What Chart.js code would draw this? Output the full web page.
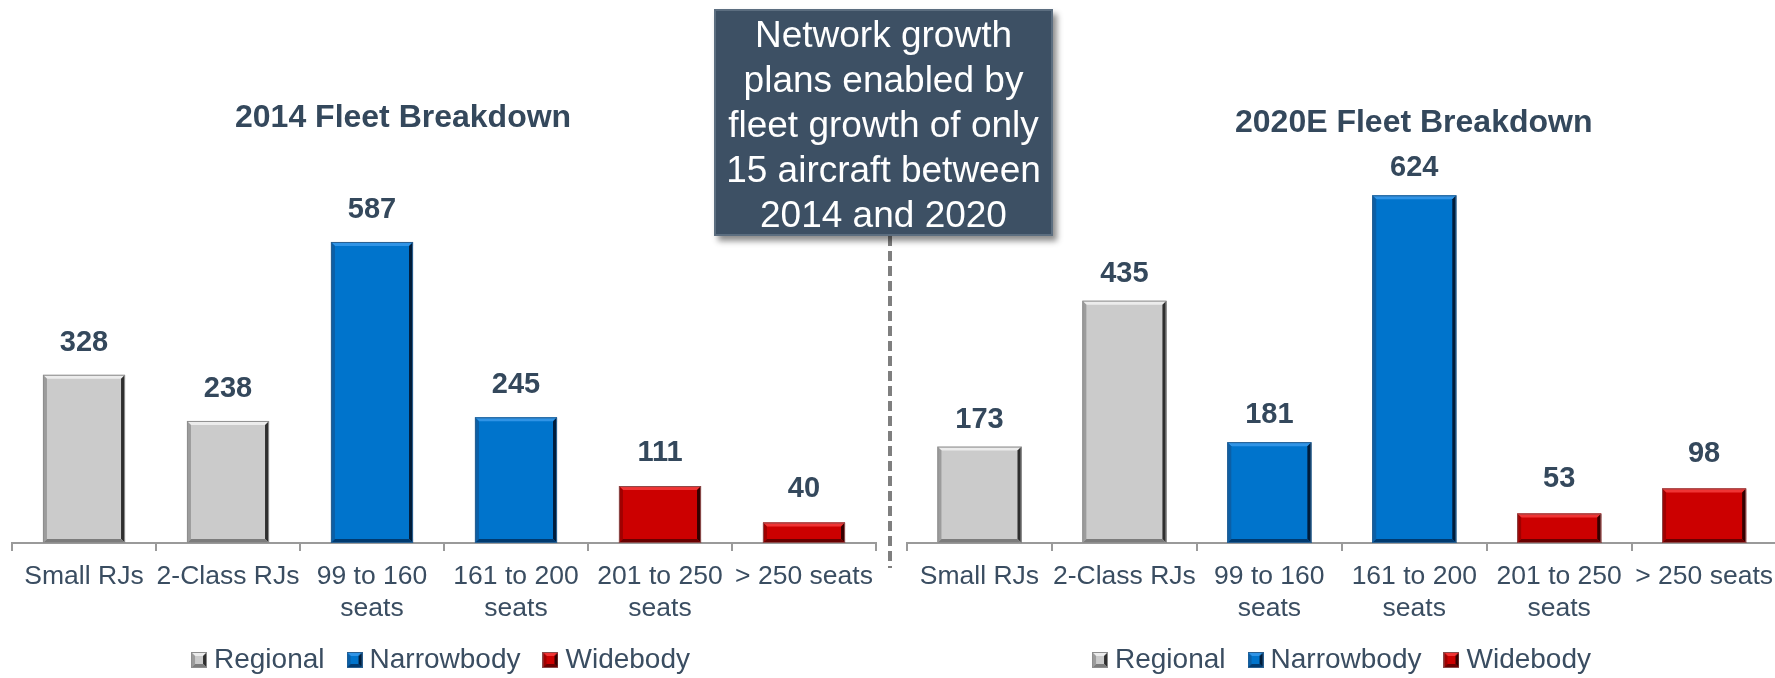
<!DOCTYPE html>
<html>
<head>
<meta charset="utf-8">
<script src="https://cdn.jsdelivr.net/npm/chart.js@4.4.1/dist/chart.umd.min.js"></script>
<style>
html,body{margin:0;padding:0;background:#fff;width:1775px;height:678px;overflow:hidden;position:relative;font-family:'Liberation Sans',Arial,sans-serif;}
canvas{position:absolute;top:0;}
#c1{left:0px;}
#c2{left:880px;}
.title{position:absolute;font-weight:bold;font-size:32px;line-height:32px;color:#34485c;white-space:nowrap;}
#t1{left:235px;top:99.5px;}
#t2{left:1235px;top:105px;}
#dash{position:absolute;left:888px;top:236px;width:3.5px;height:332px;background:repeating-linear-gradient(to bottom,#7f7f7f 0px,#7f7f7f 10px,transparent 10px,transparent 15px);}
#callout{position:absolute;left:714px;top:9px;width:339px;height:227px;box-sizing:border-box;background:#3d5064;border:2px solid #5c6e80;box-shadow:4px 5px 6px rgba(0,0,0,0.45);color:#fff;font-size:37px;line-height:45px;text-align:center;padding-top:1px;}
</style>
</head>
<body>
<canvas id="c1" width="885" height="684"></canvas>
<canvas id="c2" width="903" height="684"></canvas>
<div id="dash"></div>
<div id="callout">Network growth<br>plans enabled by<br>fleet growth of only<br>15 aircraft between<br>2014 and 2020</div>
<div class="title" id="t1">2014 Fleet Breakdown</div>
<div class="title" id="t2">2020E Fleet Breakdown</div>
<script>
// ---- data ----
const categories = ['Small RJs', '2-Class RJs', ['99 to 160', 'seats'], ['161 to 200', 'seats'], ['201 to 250', 'seats'], '> 250 seats'];
const bodyTypes = ['Regional', 'Regional', 'Narrowbody', 'Narrowbody', 'Widebody', 'Widebody'];
const seriesNames = ['Regional', 'Narrowbody', 'Widebody'];
const fleet2014 = [328, 238, 587, 245, 111, 40];
const fleet2020 = [173, 435, 181, 624, 53, 98];

// ---- styles ----
const FONT = "'Liberation Sans', Arial, sans-serif";
const TEXT = '#3a4d61';
const labelGap2014 = [24, 24, 23.5, 24, 25.5, 25];
const labelGap2020 = [18.5, 18.5, 19, 19, 26, 26.5];
const palette = {
  Regional:   {fill:'#cbcbcb', top:'#ececec', left:'#9c9c9c', right:'#2f2f2f', bottom:'#7c7c7c', edge:'#8e8e8e'},
  Narrowbody: {fill:'#0074cc', top:'#3094e6', left:'#0b5fa6', right:'#001c3a', bottom:'#003a70', edge:'#2a5f8f'},
  Widebody:   {fill:'#cc0000', top:'#ef3434', left:'#a00000', right:'#350000', bottom:'#6a0000', edge:'#8a4a4a'}
};

function poly(ctx, pts, color) {
  ctx.beginPath();
  ctx.moveTo(pts[0][0], pts[0][1]);
  for (let i = 1; i < pts.length; i++) ctx.lineTo(pts[i][0], pts[i][1]);
  ctx.closePath();
  ctx.fillStyle = color;
  ctx.fill();
}
function bevel(ctx, l, t, r, b, pal, k) {
  poly(ctx, [[l,t],[r,t],[r-k,t+k],[l+k,t+k]], pal.top);
  poly(ctx, [[l,t],[l+k,t+k],[l+k,b-k],[l,b]], pal.left);
  poly(ctx, [[r,t],[r,b],[r-k,b-k],[r-k,t+k]], pal.right);
  poly(ctx, [[l,b],[r,b],[r-k,b-k],[l+k,b-k]], pal.bottom);
  ctx.strokeStyle = pal.edge;
  ctx.lineWidth = 1;
  ctx.strokeRect(l + 0.5, t + 0.5, r - l - 1, b - t - 1);
}
function markerImage(name) {
  const c = document.createElement('canvas');
  c.width = 16; c.height = 16;
  const g = c.getContext('2d');
  g.fillStyle = palette[name].fill;
  g.fillRect(0, 0, 16, 16);
  bevel(g, 0, 0, 16, 16, palette[name], 4);
  return c;
}
const markers = {};
seriesNames.forEach(n => markers[n] = markerImage(n));

function buildDatasets(values) {
  return seriesNames.map(name => ({
    label: name,
    data: values.map((v, i) => bodyTypes[i] === name ? v : null),
    backgroundColor: palette[name].fill,
    borderWidth: 0,
    grouped: false
  }));
}

const decorPlugin = {
  id: 'decor',
  afterDatasetsDraw(chart, args, opts) {
    const ctx = chart.ctx;
    ctx.save();
    chart.data.datasets.forEach((ds, di) => {
      const meta = chart.getDatasetMeta(di);
      const pal = palette[ds.label];
      meta.data.forEach((bar, i) => {
        if (ds.data[i] == null) return;
        const p = bar.getProps(['x', 'y', 'base', 'width'], true);
        const l = p.x - p.width / 2, r = p.x + p.width / 2;
        const k = Math.min(4, (p.base - p.y) / 2);
        bevel(ctx, l, p.y, r, p.base, pal, k);
      });
    });
    ctx.fillStyle = '#34485c';
    ctx.font = 'bold 29px ' + FONT;
    ctx.textAlign = 'center';
    ctx.textBaseline = 'alphabetic';
    chart.data.datasets.forEach((ds, di) => {
      const meta = chart.getDatasetMeta(di);
      meta.data.forEach((bar, i) => {
        if (ds.data[i] == null) return;
        const p = bar.getProps(['x', 'y'], true);
        ctx.fillText(String(ds.data[i]), p.x, p.y - opts.gaps[i]);
      });
    });
    ctx.restore();
  }
};

function makeChart(id, values, cfg) {
  return new Chart(document.getElementById(id), {
    type: 'bar',
    data: {labels: categories, datasets: buildDatasets(values)},
    options: {
      responsive: false,
      animation: false,
      devicePixelRatio: 1,
      events: [],
      layout: {padding: {top: cfg.top, left: cfg.left, right: cfg.right, bottom: 0}},
      datasets: {bar: {barPercentage: cfg.barPct, categoryPercentage: 1}},
      scales: {
        x: {
          grid: {display: true, offset: true, drawOnChartArea: false, drawTicks: true, tickLength: 8, color: '#9a9a9a', lineWidth: 2},
          border: {display: true, color: '#9a9a9a', width: 2},
          ticks: {color: TEXT, font: {family: FONT, size: 26.5, lineHeight: 32 / 26.5}, padding: 10, maxRotation: 0, minRotation: 0, autoSkip: false},
          afterFit(s) { s.height = 74; }
        },
        y: {display: false, min: 0, max: 700}
      },
      plugins: {
        title: {display: false},
        tooltip: {enabled: false},
        decor: {gaps: cfg.gaps},
        legend: {
          position: 'bottom',
          labels: {
            usePointStyle: true,
            pointStyleWidth: 2,
            padding: 29,
            color: TEXT,
            font: {family: FONT, size: 28},
            generateLabels: () => seriesNames.map((n, i) => ({
              text: n, pointStyle: markers[n], fillStyle: palette[n].fill,
              strokeStyle: 'transparent', lineWidth: 0, hidden: false, datasetIndex: i, fontColor: TEXT
            }))
          }
        }
      }
    },
    plugins: [decorPlugin]
  });
}

makeChart('c1', fleet2014, {top: 184, left: 12, right: 9, barPct: 0.57, gaps: labelGap2014});
makeChart('c2', fleet2020, {top: 153, left: 27, right: 0, barPct: 0.58, gaps: labelGap2020});
</script>
</body>
</html>
